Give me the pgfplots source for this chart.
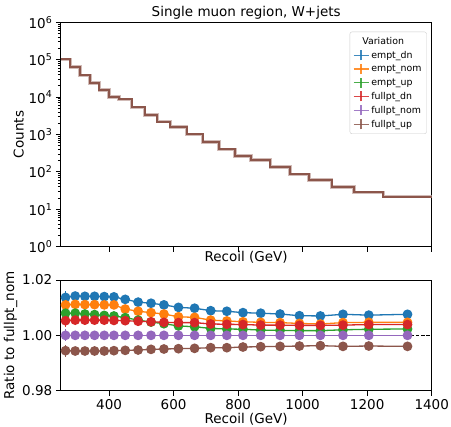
\documentclass[border=0pt]{standalone}
\usepackage{pgfplots}
\pgfplotsset{compat=1.18}
\usepackage{pgfplotstable}
\usepackage{fontspec}
\setmainfont{DejaVu Sans}
\definecolor{c0}{HTML}{1F77B4}
\definecolor{c1}{HTML}{FF7F0E}
\definecolor{c2}{HTML}{2CA02C}
\definecolor{c3}{HTML}{D62728}
\definecolor{c4}{HTML}{9467BD}
\definecolor{c5}{HTML}{8C564B}

\pgfplotstableread{
x    cnt
250  1.02e5
280  6.3e4
310  3.8e4
340  2.4e4
370  1.55e4
400  1.02e4
430  8.7e3
470  5.3e3
510  3.3e3
550  2.2e3
590  1.6e3
640  1.0e3
690  620
740  400
790  270
840  210
900  133
960  86
1020 61
1090 39
1160 28.4
1250 21.8
1400 21.8
}\hist

\pgfplotstableread{
x    b       o       g       r       p       n       e
265  1.0137  1.0110  1.0080  1.0053  1.0000  0.99446 0.0022
295  1.0142  1.0112  1.0080  1.0055  1.0000  0.99434 0.0006
325  1.0141  1.0111  1.0077  1.0055  1.0000  0.99434 0.0004
355  1.0141  1.0111  1.0075  1.0055  1.0000  0.99434 0.0004
385  1.0140  1.0110  1.0072  1.0055  1.0000  0.99434 0.0004
415  1.0139  1.0110  1.0070  1.0054  1.0000  0.99446 0.0004
450  1.0130  1.0095  1.0064  1.0053  1.0000  0.99458 0.0004
490  1.0120  1.0087  1.0055  1.0051  1.0000  0.99470 0.0004
530  1.0116  1.0082  1.0048  1.0049  1.0000  0.99494 0.0004
570  1.0110  1.0077  1.0042  1.0047  1.0000  0.99506 0.0004
615  1.0101  1.0067  1.0034  1.0046  1.0000  0.99518 0.0004
665  1.0098  1.0065  1.0031  1.0046  1.0000  0.99530 0.0004
715  1.0089  1.0055  1.0025  1.0041  1.0000  0.99554 0.0004
765  1.0087  1.0052  1.0023  1.0040  1.0000  0.99554 0.0004
815  1.0082  1.0049  1.0022  1.0039  1.0000  0.99578 0.0004
870  1.0080  1.0047  1.0019  1.0037  1.0000  0.99590 0.0004
930  1.0077  1.0046  1.0018  1.0037  1.0000  0.99602 0.0004
990  1.0071  1.0043  1.0017  1.0036  1.0000  0.99614 0.0004
1055 1.0070  1.0041  1.0017  1.0036  1.0000  0.99627 0.0004
1125 1.0076  1.0046  1.0020  1.0037  1.0000  0.99602 0.0004
1205 1.0073  1.0047  1.0022  1.0039  1.0000  0.99614 0.0004
1325 1.0076  1.0047  1.0023  1.0039  1.0000  0.99602 0.0004
}\ratio

\pgfplotsset{
  every axis/.append style={font=\fontsize{13.5}{16}\selectfont},
  legplus/.style={legend image code/.code={
     \draw[#1, line width=1.4pt, opacity=0.85] (0pt,0pt) -- (15pt,0pt);
     \draw[#1, line width=1.4pt, opacity=0.85] (7.5pt,-5pt) -- (7.5pt,5pt);}},
  rstyle/.style={color=#1, line width=1.3pt, mark=*, mark size=4.2pt,
     mark options={solid, fill=#1, draw=#1},
     error bars/.cd, y dir=both, y explicit,
     error bar style={line width=1.3pt, color=#1}, error mark=none},
}

\begin{document}
\begin{tikzpicture}
\useasboundingbox (-60.7pt,-180.3pt) rectangle (390.3pt,246.7pt);
\begin{axis}[
  at={(0pt,0pt)}, anchor=south west,
  scale only axis, width=371pt, height=224.4pt,
  xmin=250, xmax=1400, ymode=log, ymin=1, ymax=1e6,
  xtick={400,600,800,1000,1200,1400}, xticklabels={},
  ytick={1,10,100,1000,10000,100000,1000000},
  yticklabels={10\textsuperscript{0},10\textsuperscript{1},10\textsuperscript{2},10\textsuperscript{3},10\textsuperscript{4},10\textsuperscript{5},10\textsuperscript{6}},
  tick align=outside, tick pos=left,
  major tick length=4.9pt, minor tick length=2.8pt,
  every tick/.style={black, line width=0.8pt},
  axis line style={line width=0.9pt},
  xlabel={Recoil (GeV)},
  xlabel style={at={(axis description cs:0.5,0)}, anchor=center, yshift=-11pt},
  ylabel={Counts},
  ylabel style={yshift=-2pt},
  title={Single muon region, W+jets},
  title style={anchor=center, yshift=3.3pt},
  legend style={at={(axis description cs:0.9865,0.958)}, anchor=north east,
     font=\fontsize{9.4}{10}\selectfont, draw=black!20, rounded corners=2pt,
     fill=white, fill opacity=0.8, text opacity=1,
     row sep=1.4pt, inner sep=3pt},
  legend cell align=left,
]
\addplot[const plot, color=c5!40, line width=3.6pt, forget plot] table[x=x,y=cnt] {\hist};
\addplot[const plot, color=c5, line width=2pt, forget plot] table[x=x,y=cnt] {\hist};
\addlegendimage{empty legend}
\addlegendentry{\hspace*{-9pt}Variation}
\addlegendimage{legplus, color=c0}\addlegendentry{empt\_dn}
\addlegendimage{legplus, color=c1}\addlegendentry{empt\_nom}
\addlegendimage{legplus, color=c2}\addlegendentry{empt\_up}
\addlegendimage{legplus, color=c3}\addlegendentry{fullpt\_dn}
\addlegendimage{legplus, color=c4}\addlegendentry{fullpt\_nom}
\addlegendimage{legplus, color=c5}\addlegendentry{fullpt\_up}
\end{axis}

\begin{axis}[
  at={(0pt,-33.3pt)}, anchor=north west,
  scale only axis, width=371pt, height=110.7pt,
  xmin=250, xmax=1400, ymin=0.98, ymax=1.02,
  xtick={400,600,800,1000,1200,1400},
  ytick={0.98,1.00,1.02},
  xticklabel style={/pgf/number format/.cd, set thousands separator={}},
  yticklabel style={/pgf/number format/.cd, fixed, fixed zerofill, precision=2},
  /pgf/number format/assume math mode=true,
  scaled y ticks=false,
  tick align=outside, tick pos=left,
  major tick length=4.9pt,
  every tick/.style={black, line width=0.8pt},
  axis line style={line width=0.9pt},
  xlabel={Recoil (GeV)},
  ylabel={Ratio to fullpt\_nom},
  xlabel style={yshift=3pt},
  ylabel style={yshift=-2pt},
  clip=true,
]
\addplot[black, line width=1.3pt, dash pattern=on 3.5pt off 1.8pt, forget plot] coordinates {(250,1) (1400,1)};
\addplot[rstyle=c0] table[x=x, y=b, y error=e] {\ratio};
\addplot[rstyle=c1] table[x=x, y=o, y error=e] {\ratio};
\addplot[rstyle=c2] table[x=x, y=g, y error=e] {\ratio};
\addplot[rstyle=c3] table[x=x, y=r, y error=e] {\ratio};
\addplot[rstyle=c4] table[x=x, y=p, y error=e] {\ratio};
\addplot[rstyle=c5] table[x=x, y=n, y error=e] {\ratio};
\end{axis}
\end{tikzpicture}
\end{document}
